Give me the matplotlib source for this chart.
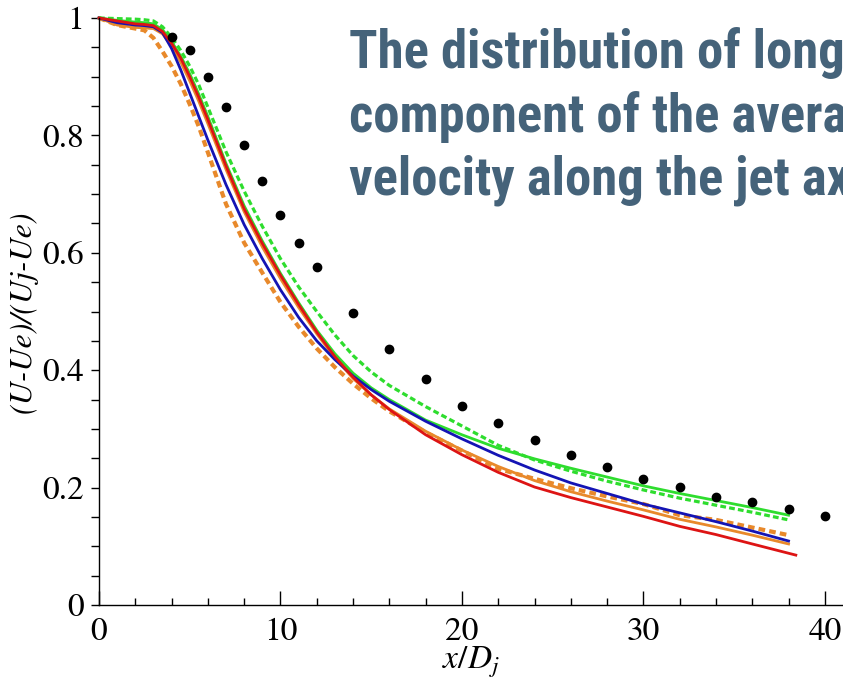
import matplotlib
matplotlib.use("Agg")
import matplotlib.pyplot as plt
from matplotlib import font_manager
from matplotlib.ticker import MultipleLocator, FuncFormatter

# ---- data ----
# experimental points (black dots)
x_exp = [4, 5, 6, 7, 8, 9, 10, 11, 12, 14, 16, 18, 20, 22, 24, 26, 28, 30, 32, 34, 36, 38, 40]
y_exp = [0.967, 0.946, 0.900, 0.849, 0.783, 0.723, 0.664, 0.616, 0.575, 0.497, 0.436, 0.385,
         0.339, 0.310, 0.281, 0.255, 0.235, 0.214, 0.201, 0.184, 0.175, 0.163, 0.151]

# simulation curves
x_sim = [0, 1, 2, 2.5, 3, 3.5, 4, 4.5, 5, 5.5, 6, 7, 8, 9, 10, 11, 12, 13, 14, 15, 16,
         18, 20, 22, 24, 26, 28, 30, 32, 34, 36, 38]
x_red = [0, 1, 2, 2.5, 3, 3.5, 4, 4.5, 5, 5.5, 6, 7, 8, 9, 10, 11, 12, 13, 14, 15, 16,
         18, 20, 22, 24, 26, 28, 30, 32, 34, 36, 38.4]

y_green_dash = [1.0, 0.999, 0.998, 0.997, 0.995, 0.985, 0.967, 0.945, 0.918, 0.886, 0.848,
                0.772, 0.705, 0.645, 0.590, 0.542, 0.500, 0.460, 0.425, 0.397, 0.374,
                0.338, 0.305, 0.272, 0.247, 0.228, 0.211, 0.196, 0.182, 0.170, 0.158, 0.145]
y_green = [1.0, 0.996, 0.993, 0.992, 0.990, 0.980, 0.960, 0.935, 0.905, 0.870, 0.832,
           0.752, 0.680, 0.620, 0.565, 0.515, 0.468, 0.428, 0.395, 0.370, 0.350,
           0.315, 0.290, 0.267, 0.249, 0.233, 0.218, 0.203, 0.190, 0.178, 0.166, 0.153]
y_orange_dash = [1.0, 0.988, 0.982, 0.979, 0.966, 0.943, 0.918, 0.888, 0.853, 0.815, 0.771,
                 0.683, 0.617, 0.566, 0.516, 0.474, 0.437, 0.405, 0.377, 0.352, 0.330,
                 0.294, 0.263, 0.232, 0.215, 0.199, 0.185, 0.172, 0.153, 0.145, 0.132, 0.119]
y_orange = [1.0, 0.988, 0.984, 0.983, 0.982, 0.973, 0.952, 0.925, 0.893, 0.858, 0.820,
            0.742, 0.670, 0.610, 0.556, 0.507, 0.462, 0.421, 0.386, 0.358, 0.334,
            0.296, 0.264, 0.236, 0.212, 0.193, 0.177, 0.162, 0.146, 0.133, 0.119, 0.104]
y_blue = [1.0, 0.992, 0.988, 0.987, 0.985, 0.975, 0.948, 0.912, 0.872, 0.832, 0.792,
          0.716, 0.648, 0.590, 0.537, 0.490, 0.450, 0.418, 0.390, 0.367, 0.347,
          0.313, 0.283, 0.255, 0.230, 0.208, 0.190, 0.172, 0.157, 0.142, 0.126, 0.109]
y_red = [1.0, 0.995, 0.990, 0.989, 0.987, 0.977, 0.957, 0.932, 0.900, 0.865, 0.827,
         0.748, 0.675, 0.616, 0.562, 0.512, 0.465, 0.423, 0.388, 0.358, 0.333,
         0.290, 0.256, 0.226, 0.201, 0.183, 0.167, 0.151, 0.134, 0.120, 0.104, 0.085]

title_lines = ["The distribution of longitudinal",
               "component of the average",
               "velocity along the jet axis"]

# ---- fonts ----
plt.rcParams['mathtext.fontset'] = 'stix'
serif = 'STIXGeneral'


def pick_title_font():
    # look for a narrow/condensed bold sans, else plain bold sans
    narrow = []
    for f in font_manager.fontManager.ttflist:
        name = f.name.lower()
        is_bold = f.weight in ('bold', 700, 'heavy', 800) or str(f.weight) == '700'
        is_narrow = ('narrow' in name or 'condensed' in name or
                     f.stretch in ('condensed', 'semi-condensed', 'extra-condensed'))
        if is_bold and is_narrow and 'mono' not in name and 'serif' not in name:
            narrow.append(f)
    order = ['liberation sans narrow', 'arial narrow', 'roboto condensed',
             'open sans condensed', 'dejavu sans']
    for key in order:
        for f in narrow:
            if f.name.lower().startswith(key):
                return font_manager.FontProperties(fname=f.fname), 37.9
    if narrow:
        return font_manager.FontProperties(fname=narrow[0].fname), 37.9
    return font_manager.FontProperties(family='Liberation Sans', weight='bold'), 33


title_prop, title_size = pick_title_font()
title_prop.set_size(title_size)

# ---- figure ----
fig = plt.figure(figsize=(8.43, 6.87), dpi=100)
W, H = 843, 687
ax = fig.add_axes([99 / W, 82 / H, 744 / W, 587 / H])

# curves (order chosen so red/blue sit on top like the original)
ax.plot(x_sim, y_orange_dash, color='#E8892B', lw=3.0, ls=(0, (1.6, 1.0)), clip_on=False)
ax.plot(x_sim, y_green_dash, color='#2EDD2E', lw=2.3, ls=(0, (1.8, 1.0)), clip_on=False)
ax.plot(x_sim, y_orange, color='#E8892B', lw=2.0, clip_on=False)
ax.plot(x_sim, y_green, color='#2EDD2E', lw=2.0, clip_on=False)
ax.plot(x_sim, y_blue, color='#1414B4', lw=2.0, clip_on=False)
ax.plot(x_red, y_red, color='#DD1414', lw=2.0, clip_on=False)

# experiment
ax.plot(x_exp, y_exp, 'o', color='black', markersize=6, clip_on=False)

# axes styling
ax.set_xlim(0, 41.0)
ax.set_ylim(0, 1.0)
ax.spines['top'].set_visible(False)
ax.spines['right'].set_visible(False)
for s in ['left', 'bottom']:
    ax.spines[s].set_linewidth(1.0)

ax.xaxis.set_major_locator(MultipleLocator(10))
ax.xaxis.set_minor_locator(MultipleLocator(2))
ax.yaxis.set_major_locator(MultipleLocator(0.2))
ax.yaxis.set_minor_locator(MultipleLocator(0.05))
ax.yaxis.set_major_formatter(FuncFormatter(lambda v, p: f'{v:g}'))

ax.tick_params(axis='x', which='major', direction='in', length=10, width=1.0, pad=9)
ax.tick_params(axis='x', which='minor', direction='in', length=5, width=1.0)
ax.tick_params(axis='y', which='both', direction='out', length=6, width=1.0, pad=5)

for lab in ax.get_xticklabels() + ax.get_yticklabels():
    lab.set_fontfamily(serif)
    lab.set_fontsize(24)

ax.set_xlabel(r'$x/D_j$', fontsize=24, labelpad=-2)
ax.set_ylabel('(U-Ue)/(Uj-Ue)', fontsize=23, fontfamily=serif, fontstyle='italic', labelpad=3)

# overlaid slide title (runs off the right edge like the original)
baselines = [68.3, 131.7, 195.0]
for line, b in zip(title_lines, baselines):
    fig.text(349 / W, 1 - b / H, line, fontproperties=title_prop,
             color='#45637A', ha='left', va='baseline')

fig.savefig('out.png', dpi=100)
